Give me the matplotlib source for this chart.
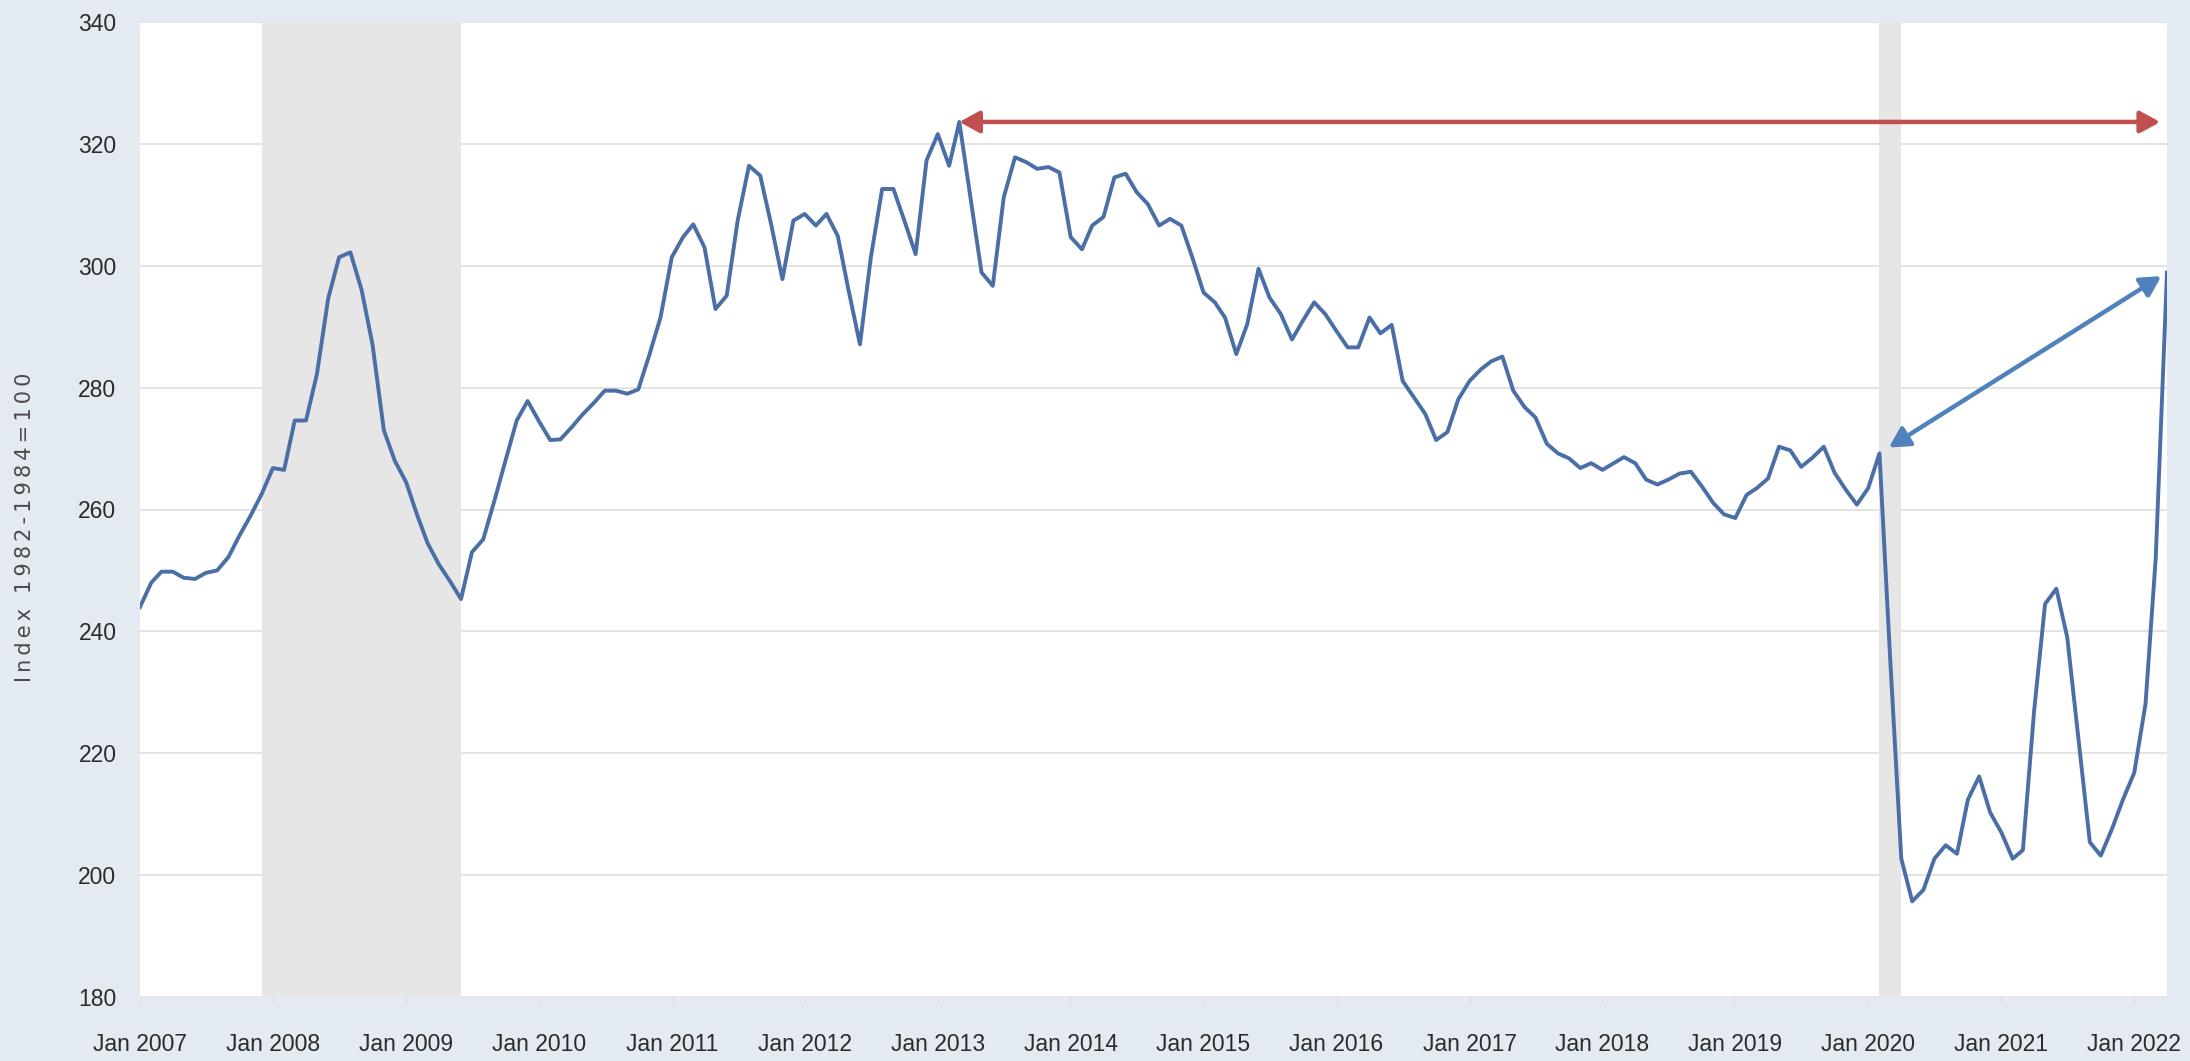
import numpy as np
import pandas as pd
import matplotlib
matplotlib.use("Agg")
import matplotlib.pyplot as plt
import matplotlib.dates as mdates
import matplotlib.patheffects as pe

# monthly index values, Jan 2007 .. Apr 2022
vals_2007 = [244.0, 248.0, 249.8, 249.8, 248.8, 248.6, 249.6, 250.0, 252.2, 255.7, 259.0, 262.5]
vals_2008 = [266.8, 266.5, 274.6, 274.6, 282.2, 294.6, 301.4, 302.2, 296.0, 287.0, 273.0, 268.0]
vals_2009 = [264.5, 259.0, 254.5, 251.0, 248.3, 245.3, 253.0, 255.1, 261.5, 268.0, 274.6, 277.8]
vals_2010 = [274.5, 271.4, 271.5, 273.5, 275.6, 277.5, 279.5, 279.5, 279.0, 279.7, 285.5, 291.5]
vals_2011 = [301.4, 304.7, 306.8, 303.0, 292.9, 295.1, 307.4, 316.4, 314.8, 306.8, 297.8, 307.4]
vals_2012 = [308.5, 306.6, 308.5, 304.9, 295.9, 287.1, 301.4, 312.6, 312.6, 307.4, 301.9, 317.3]
vals_2013 = [321.6, 316.4, 323.6, 311.0, 298.9, 296.7, 311.2, 317.8, 317.0, 315.9, 316.2, 315.3]
vals_2014 = [304.7, 302.7, 306.6, 308.0, 314.5, 315.1, 312.1, 310.1, 306.6, 307.7, 306.6, 301.4]
vals_2015 = [295.6, 294.0, 291.5, 285.5, 290.4, 299.5, 294.8, 292.1, 287.9, 291.0, 294.0, 292.1]
vals_2016 = [289.3, 286.6, 286.6, 291.5, 288.9, 290.3, 281.1, 278.4, 275.7, 271.4, 272.7, 278.1]
vals_2017 = [281.1, 283.0, 284.3, 285.1, 279.5, 276.8, 275.1, 270.8, 269.2, 268.4, 266.8, 267.6]
vals_2018 = [266.5, 267.6, 268.6, 267.6, 264.9, 264.1, 264.9, 265.9, 266.2, 263.8, 261.1, 259.2]
vals_2019 = [258.6, 262.4, 263.5, 265.1, 270.3, 269.7, 267.0, 268.5, 270.3, 266.0, 263.2, 260.8]
vals_2020 = [263.5, 269.2, 236.0, 202.7, 195.7, 197.6, 202.7, 204.9, 203.5, 212.4, 216.2, 210.3]
vals_2021 = [207.0, 202.7, 204.1, 227.0, 244.5, 247.0, 239.0, 222.2, 205.4, 203.2, 207.6, 212.4]
vals_2022 = [216.8, 228.1, 252.0, 298.9]

values = (vals_2007 + vals_2008 + vals_2009 + vals_2010 + vals_2011 + vals_2012 +
          vals_2013 + vals_2014 + vals_2015 + vals_2016 + vals_2017 + vals_2018 +
          vals_2019 + vals_2020 + vals_2021 + vals_2022)
dates = pd.date_range("2007-01-01", periods=len(values), freq="MS")

# recession shading (start, end)
recessions = [("2007-12-01", "2009-06-01"), ("2020-02-01", "2020-04-01")]

y_ticks = [180, 200, 220, 240, 260, 280, 300, 320, 340]
y_label = "Index 1982-1984=100"

bg = "#e3eaf1"
line_col = "#4a6ea6"

fig = plt.figure(figsize=(21.9, 10.61), dpi=100, facecolor=bg)
ax = fig.add_axes([140 / 2190, 1 - 997 / 1061, (2167 - 140) / 2190, (997 - 22) / 1061])
ax.set_facecolor("white")

for start, end in recessions:
    ax.axvspan(pd.Timestamp(start), pd.Timestamp(end), color="#e6e6e6", lw=0, zorder=1)

ax.plot(dates, values, color=line_col, lw=2.8, zorder=3, solid_joinstyle="round")

ax.set_xlim(dates[0], dates[-1])
ax.set_ylim(180, 340)
ax.set_yticks(y_ticks)
ax.grid(axis="y", color="#dedede", lw=1.2, zorder=0)
ax.set_axisbelow(True)
for s in ax.spines.values():
    s.set_visible(False)

ax.xaxis.set_major_locator(mdates.YearLocator(month=1, day=1))
ax.xaxis.set_major_formatter(mdates.DateFormatter("%b %Y"))

tick_font = ["Liberation Sans Narrow", "Liberation Sans", "DejaVu Sans"]
for lab in ax.get_xticklabels() + ax.get_yticklabels():
    lab.set_family(tick_font)
ax.tick_params(axis="x", length=5, color="#e0e0e0", pad=21, labelsize=16.5, labelcolor="#2b2b2b")
ax.tick_params(axis="y", length=0, pad=17, labelsize=16.5, labelcolor="#2b2b2b")

spaced = "\u2009".join(y_label)
fig.text(25 / 2190, 1 - 527 / 1061, spaced, rotation=90, ha="center", va="center",
         fontsize=15, color="#4a4a4a", family="DejaVu Sans")

# annotation arrows
shadow = [pe.withSimplePatchShadow(offset=(1.5, -1.5), alpha=0.25)]
peak_i = int(np.argmax(values))
feb20_i = list(dates).index(pd.Timestamp("2020-02-01"))

ax.annotate("", xy=(dates[-1], values[peak_i]), xytext=(dates[peak_i], values[peak_i]),
            arrowprops=dict(arrowstyle="<|-|>,head_length=0.55,head_width=0.3",
                            color="#c0504d", lw=3.2, mutation_scale=22,
                            shrinkA=0, shrinkB=5, path_effects=shadow),
            zorder=5)
ax.annotate("", xy=(dates[-1], values[-1]), xytext=(dates[feb20_i], values[feb20_i]),
            arrowprops=dict(arrowstyle="<|-|>,head_length=0.55,head_width=0.3",
                            color="#4f81bd", lw=3.2, mutation_scale=22,
                            shrinkA=8, shrinkB=5, path_effects=shadow),
            zorder=5)

fig.savefig("out.png", dpi=100, facecolor=bg)
